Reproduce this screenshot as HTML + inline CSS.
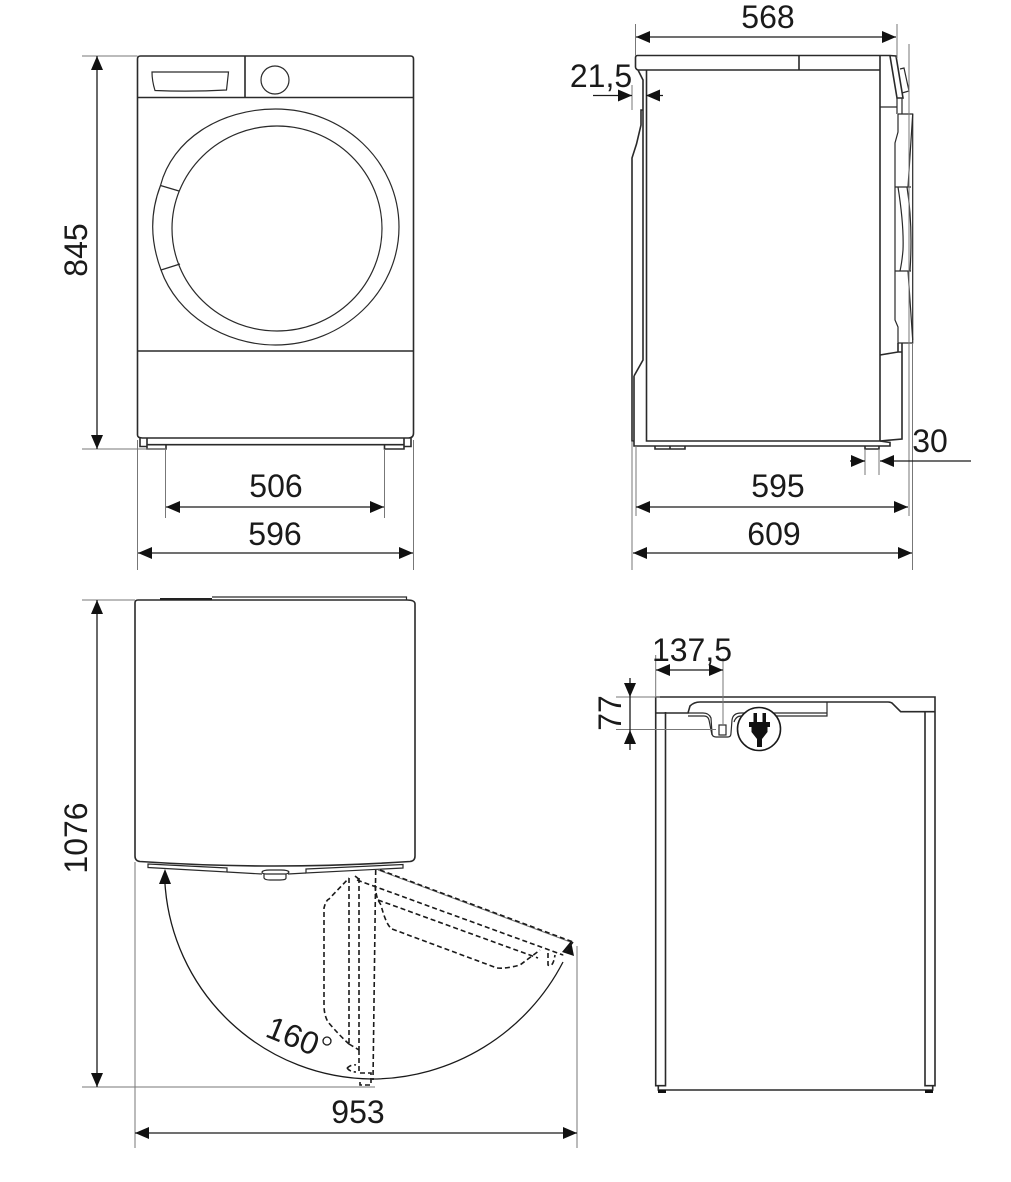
<!DOCTYPE html>
<html><head><meta charset="utf-8"><style>
html,body{margin:0;padding:0;background:#fff;width:1011px;height:1182px;overflow:hidden}
svg{display:block}
text{font-family:"Liberation Sans",sans-serif;font-size:32px;fill:#1a1a1a}
.k{fill:none;stroke:#2a2a2a;stroke-width:1.6}
.t{fill:none;stroke:#2a2a2a;stroke-width:1.2}
.g{fill:none;stroke:#777;stroke-width:1}
.d{fill:none;stroke:#1a1a1a;stroke-width:1.3}
.h{fill:none;stroke:#1a1a1a;stroke-width:1.6;stroke-dasharray:5 3}
.a{fill:#111;stroke:none}
</style></head><body>
<svg width="1011" height="1182" viewBox="0 0 1011 1182" xmlns="http://www.w3.org/2000/svg">
<defs>
<marker id="m" viewBox="0 0 14 12" refX="14" refY="6" markerWidth="14" markerHeight="12" markerUnits="userSpaceOnUse" orient="auto-start-reverse"><path d="M0 0L14 6L0 12Z" fill="#111"/></marker>
</defs>

<!-- FRONT VIEW -->
<path class="k" d="M137.5 435V59q0-3 3-3H410.5q3 0 3 3V433q0 5-5 5H142.5q-5 0-5-3z"/>
<path class="k" d="M137.5 97.5H413.5M245 56V97.5M137.5 351H413.5"/>
<path class="t" d="M152 72H228.5L226.5 90Q190 92 155 90.5Q152 81 152 72z"/>
<circle class="t" cx="275" cy="80" r="14"/>
<path class="t" d="M160.5 185.5C172 140 220 109 275.5 109C343 109 399 161 399 227C399 292 343 345 275.5 345C225 345 177 315 161 270C150 240 150 213 160.5 185.5z"/>
<ellipse class="t" cx="277" cy="228.5" rx="105" ry="102.5"/>
<path class="t" d="M160.5 185.5L179 191M161 270L180 264"/>
<path class="k" d="M140 438V446.5H147M411 438V446.5H404M147 438V444.7H404V438M147 444.7V449H166V444.7M384.5 444.7V449H404V444.7"/>
<path class="g" d="M82 56H137.5M82 449H166M137.5 440V570M413.5 440V570M165.5 449V518M384.5 449V518"/>
<path class="d" d="M97 56V449" marker-start="url(#m)" marker-end="url(#m)"/>
<path class="d" d="M166 507H384" marker-start="url(#m)" marker-end="url(#m)"/>
<path class="d" d="M138 553H413" marker-start="url(#m)" marker-end="url(#m)"/>
<text transform="translate(87 250) rotate(-90)" text-anchor="middle">845</text>
<text x="276" y="497" text-anchor="middle">506</text>
<text x="275" y="545" text-anchor="middle">596</text>

<!-- SIDE VIEW -->
<path class="k" d="M637.5 55.5H890L896 56L903 98H897L890 56M637.5 55.5Q635.5 55.5 635.5 58V67Q635.5 69 638 70H880M799 55.5V70M880 56V441M646.5 70V441H880"/>
<path class="k" d="M638 70L643 80V110H641L641 125L636.5 144L632 158V441H634V446H890V442.5L880 441M634 376V441M643 110V360L634 376"/>
<path class="t" d="M880 107H897V98M897 107V114M902 98V114"/>
<path class="t" d="M900 69L904 68L909 91L902 93"/>
<path class="t" d="M898 114H912.7V343H898V327L895 320V143L898 132V114M895 187H911M895 271H911"/>
<path class="t" d="M898 187Q904 225 903 250Q902 262 900 271M907 187Q913 225 910 271M912.7 114L908 187M908 271L912.7 340"/>
<path class="k" d="M880 355L898 352H902V439L880 441M898 343V352M902 343V352"/>
<path class="k" d="M655 446V449H685V446M670 446V449M865 446V449H879V446"/>
<path class="g" d="M635.5 24V56M897 24V58M632 85V110M632 441V570M636 446V516M909 44V516M912.5 343V570M865 449V475M879 449V475"/>
<path class="d" d="M636 37H896" marker-start="url(#m)" marker-end="url(#m)"/>
<path class="d" d="M593 95.5H632" marker-end="url(#m)"/>
<path class="d" d="M663 95.5H646" marker-end="url(#m)"/>
<path class="d" d="M850 461H865" marker-end="url(#m)"/>
<path class="d" d="M971 461H880" marker-end="url(#m)"/>
<path class="d" d="M636 507H908" marker-start="url(#m)" marker-end="url(#m)"/>
<path class="d" d="M633 553H912" marker-start="url(#m)" marker-end="url(#m)"/>
<text x="768" y="28" text-anchor="middle">568</text>
<text x="601" y="87" text-anchor="middle">21,5</text>
<text x="930" y="452" text-anchor="middle">30</text>
<text x="778" y="497" text-anchor="middle">595</text>
<text x="774" y="545" text-anchor="middle">609</text>

<!-- TOP VIEW -->
<path class="k" d="M135 856V603Q135 600 138 600H159.5L212 600H407Q415 600 415 604V856"/>
<path fill="#222" d="M160 598H212V600H160z"/>
<path class="t" d="M212 597H406.5V600"/>
<path class="k" d="M135 856Q135 861 140 861.5Q275 870.5 410 861.5Q415 861 415 856"/>
<path class="t" d="M227 872L262 874M288 874L306 873"/>
<path class="t" d="M148 864L227 868V872L148 867.5ZM306 869L403 864.5V868L306 873Z"/>
<path class="t" d="M262 872Q263 870 270 870H281Q288 870 289 872Q288 874 285 874H266Q262 874 262 872zM264 874V878Q265 880 270 880H280Q286 880 286 878V874"/>
<path class="g" d="M82 600H135M82 1087H375M135 862V1148M577 946V1148M378 870L573 943"/>
<path class="d" d="M97 600V1087" marker-start="url(#m)" marker-end="url(#m)"/>
<path class="d" d="M135 1133H577" marker-start="url(#m)" marker-end="url(#m)"/>
<path class="d" d="M165 884A209 209 0 0 0 372 1079A216 216 0 0 0 563 962"/>
<path class="a" d="M165 869L171 884H159ZM571 941L574 956L562 952Z"/>
<g class="h">
<path d="M380 870L573 942M357 880L563 955M378 900L538 958M573 942L563 955M375.7 870L373 1080"/>
<path d="M375 885Q376 895 378 900L381 905Q386 925 392 929L497 968Q505 969 520 965L540 950"/>
<path d="M548 953L548 965Q553 968 555 955M355 876L360 880"/>
<path d="M359 878V1050M349 878V1044M349 1044Q339 1035 328 1022Q324 1015 324 1005V908Q326 900 329 899L349 878M349 1044L359 1050"/>
<path d="M359 1050V1073H371V1085H360V1080M347 1068Q352 1064 356 1065M347 1068Q350 1072 356 1072"/>
</g>
<text transform="translate(264 1036) rotate(22)">160</text>
<circle cx="327" cy="1041" r="4" fill="none" stroke="#1a1a1a" stroke-width="1.3"/>
<text x="358" y="1123" text-anchor="middle">953</text>
<text transform="translate(87 838) rotate(-90)" text-anchor="middle">1076</text>

<!-- BACK VIEW -->
<path class="k" d="M655.7 697H935V711.7H900.7L892 703Q890 702 888 702H700Q694 702 690 706L688 713H655.7M655.7 697V1085.7H665.5V712M935 697V1085.7H925V712"/>
<path class="k" d="M658.3 1085.7V1090H932.7V1085.7"/>
<path fill="#111" d="M658 1090H666V1093H658zM925 1090H933V1093H925z"/>
<path class="t" d="M688 713H703Q709 713 711 718L712 733Q712 737 716 737H728Q731 737 731 733L732 720Q733 713 741 713H827V702M688 716H704Q708 716 709 720L712 735M734 722Q736 716 741 716H827V713"/>
<rect class="t" x="719" y="725" width="7" height="10"/>
<circle cx="759" cy="729" r="21.5" fill="#fff" stroke="#1a1a1a" stroke-width="1.6"/>
<path fill="#111" d="M753.5 713H757V722H762.5V713H766V722H770V727H767.5V732L762 739V747H757V739L751.5 732V727H749V722H753.5Z"/>
<path class="g" d="M655.7 655V697M723 658V725M616 697H660M616 729.5H716"/>
<path class="d" d="M656 670H723" marker-start="url(#m)" marker-end="url(#m)"/>
<path class="d" d="M630 678V697" marker-end="url(#m)"/>
<path class="d" d="M630 750V730" marker-end="url(#m)"/>
<path class="d" d="M630 697V730"/>
<text x="692" y="661" text-anchor="middle">137,5</text>
<text transform="translate(621 713) rotate(-90)" text-anchor="middle">77</text>
</svg>
</body></html>
